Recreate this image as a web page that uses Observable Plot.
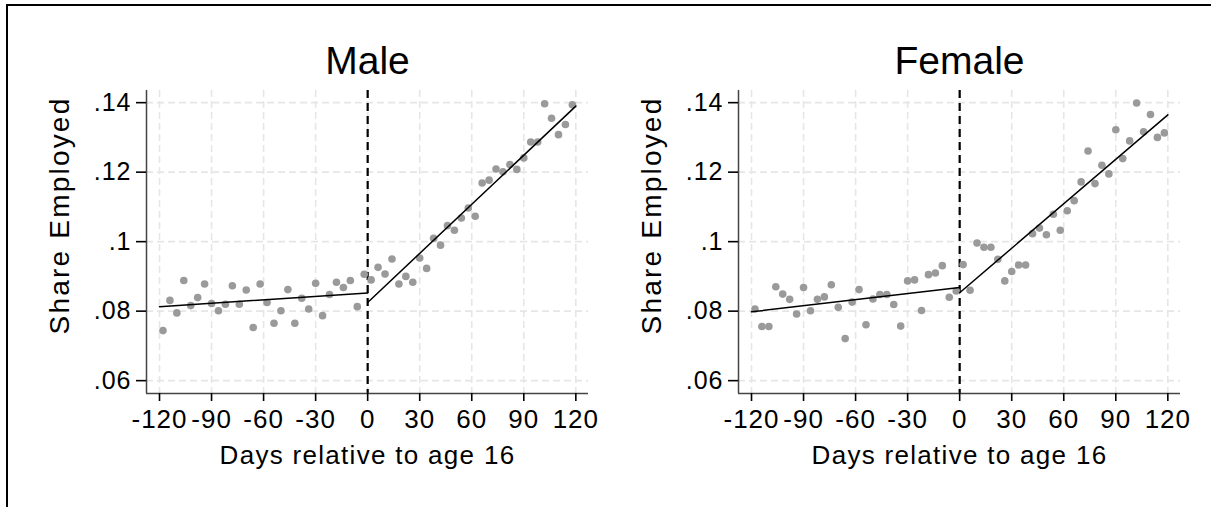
<!DOCTYPE html>
<html><head><meta charset="utf-8">
<script src="https://cdn.jsdelivr.net/npm/d3@7"></script>
<script src="https://cdn.jsdelivr.net/npm/@observablehq/plot@0.6"></script>
<style>
body{margin:0;background:#fff;}
#wrap{position:relative;width:1211px;height:507px;overflow:hidden;background:#fff;}
#border{position:absolute;left:6px;top:4px;width:1300px;height:600px;border-top:2px solid #000;border-left:2px solid #000;}
.panel{position:absolute;top:0;}
</style></head><body><div id="wrap"><div id="border"></div></div>
<script>
const days = [-118,-114,-110,-106,-102,-98,-94,-90,-86,-82,-78,-74,-70,-66,-62,-58,-54,-50,-46,-42,-38,-34,-30,-26,-22,-18,-14,-10,-6,-2,
  2,6,10,14,18,22,26,30,34,38,42,46,50,54,58,62,66,70,74,78,82,86,90,94,98,102,106,110,114,118];
const maleShare = [.0744,.0831,.0795,.0888,.0816,.0839,.0878,.0822,.0801,.0820,.0873,.0820,.0861,.0753,.0878,.0825,.0765,.0801,.0862,.0765,.0837,.0806,.0880,.0787,.0848,.0883,.0868,.0888,.0813,.0906,
  .0890,.0926,.0907,.0950,.0878,.0900,.0883,.0953,.0923,.1010,.0990,.1046,.1033,.1068,.1097,.1073,.1169,.1177,.1209,.1201,.1222,.1208,.1241,.1287,.1287,.1397,.1355,.1308,.1337,.1394];
const femaleShare = [.0806,.0756,.0756,.0870,.0849,.0834,.0792,.0868,.0801,.0834,.0841,.0876,.0811,.0721,.0826,.0862,.0761,.0835,.0848,.0848,.0819,.0757,.0887,.0890,.0802,.0905,.0910,.0931,.0840,.0858,
  .0934,.0860,.0996,.0984,.0984,.0949,.0887,.0914,.0933,.0933,.1023,.1039,.1020,.1079,.1033,.1089,.1118,.1172,.1261,.1167,.1220,.1195,.1322,.1239,.1290,.1399,.1316,.1366,.1300,.1313];
const fitDaysLeft = [-120, 0];
const fitDaysRight = [0, 120];
const maleFitLeft = [.0813, .0852];
const maleFitRight = [.0825, .1390];
const femaleFitLeft = [.0798, .0868];
const femaleFitRight = [.0853, .1365];
const cutoff = [0];
const xTicks = [-120,-90,-60,-30,0,30,60,90,120];
const xTickLabels = ["-120","-90","-60","-30","0","30","60","90","120"];
const yTicks = [.06,.08,.10,.12,.14];
const yTickLabels = [".06",".08",".1",".12",".14"];
const xDomain = [-127.5, 127.3];
const yDomain = [0.0563, 0.1435];
const titles = ["Male","Female"];
const yTitle = "Share Employed";
const xTitle = "Days relative to age 16";

const FONT = '"Liberation Sans", Arial, Helvetica, sans-serif';

function panel(title, share, fitL, fitR, left) {
  const pts = days.map((d, i) => ({day: d, share: share[i]}));
  const fit = [
    {seg: "L", day: fitDaysLeft[0], v: fitL[0]},
    {seg: "L", day: fitDaysLeft[1], v: fitL[1]},
    {seg: "R", day: fitDaysRight[0], v: fitR[0]},
    {seg: "R", day: fitDaysRight[1], v: fitR[1]}
  ];
  const gridStyle = {stroke: "#e6e6e6", strokeOpacity: 1, strokeWidth: 1.6, strokeDasharray: "7,4"};
  const chart = Plot.plot({
    width: 605, height: 507,
    marginLeft: 146, marginRight: 17, marginTop: 90, marginBottom: 114,
    style: {fontFamily: FONT, background: "transparent", overflow: "visible", color: "#000"},
    x: {domain: xDomain, axis: null, label: null},
    y: {domain: yDomain, axis: null, label: null},
    marks: [
      Plot.gridX(xTicks, gridStyle),
      Plot.gridY(yTicks, gridStyle),
      Plot.ruleX(cutoff, {stroke: "#000", strokeWidth: 2.2, strokeDasharray: "8,5"}),
      Plot.dot(pts, {x: "day", y: "share", r: 3.8, fill: "#9a9a9a", stroke: null}),
      Plot.line(fit, {x: "day", y: "v", z: "seg", stroke: "#000", strokeWidth: 1.5}),
      Plot.ruleY([yDomain[0]], {stroke: "#444", strokeWidth: 1.5}),
      Plot.ruleX([xDomain[0]], {stroke: "#444", strokeWidth: 1.5}),
      Plot.axisX(xTicks, {tickSize: 8, tickPadding: 8, fontSize: 26, strokeWidth: 1.6,
        tickFormat: d => xTickLabels[xTicks.indexOf(d)], label: null}),
      Plot.axisY(yTicks, {tickSize: 10, tickPadding: 5, fontSize: 25, strokeWidth: 1.6,
        tickFormat: d => yTickLabels[yTicks.indexOf(d)], label: null}),
      Plot.text([title], {frameAnchor: "top", dy: -29, fontSize: 39, fill: "#000", textAnchor: "middle", lineAnchor: "middle"}),
      Plot.text([yTitle], {frameAnchor: "left", rotate: -90, dx: -86, dy: -26.5, fontSize: 28, fill: "#000", textAnchor: "middle", lineAnchor: "middle"}),
      Plot.text([xTitle], {frameAnchor: "bottom", dy: 62, fontSize: 26, fill: "#000", textAnchor: "middle", lineAnchor: "middle"})
    ]
  });
  chart.querySelectorAll("text").forEach(t => {
    const s = t.textContent;
    if (s === title) t.style.letterSpacing = "0px";
    else if (s === yTitle) t.style.letterSpacing = "2.2px";
    else if (s === xTitle) t.style.letterSpacing = "1.3px";
    else if (xTickLabels.includes(s) || yTickLabels.includes(s)) t.style.letterSpacing = "1px";
  });
  chart.classList.add("panel");
  chart.style.left = left + "px";
  document.getElementById("wrap").appendChild(chart);
}
panel(titles[0], maleShare, maleFitLeft, maleFitRight, 0);
panel(titles[1], femaleShare, femaleFitLeft, femaleFitRight, 592);
</script></body></html>
